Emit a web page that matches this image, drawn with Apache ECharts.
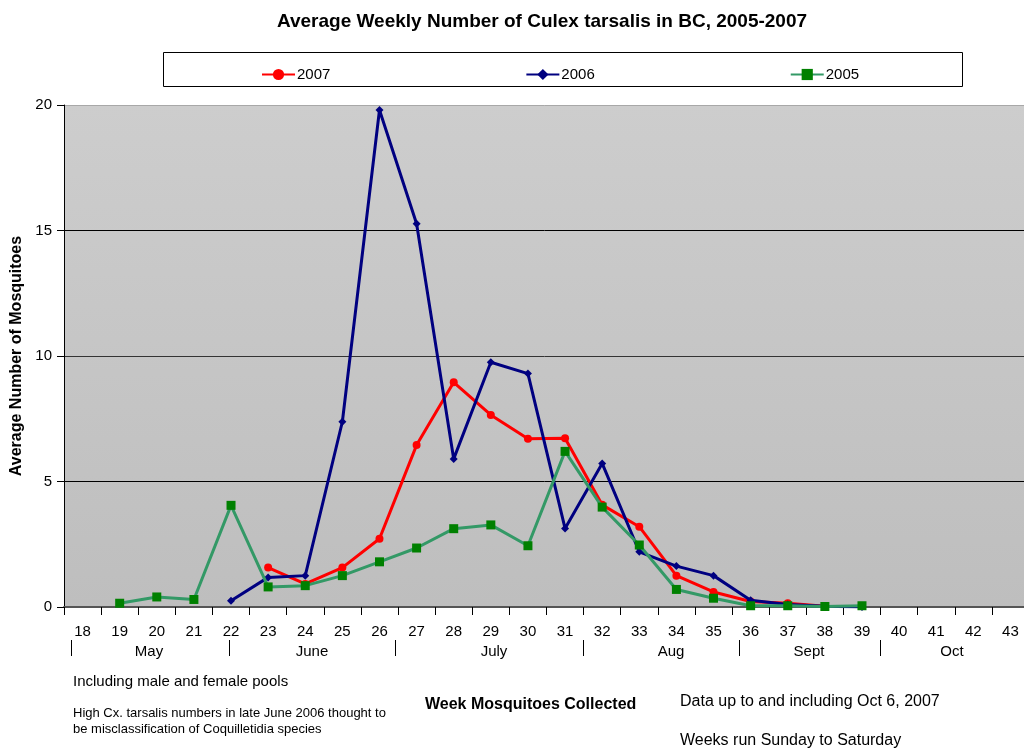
<!DOCTYPE html>
<html>
<head>
<meta charset="utf-8">
<script src="https://cdn.jsdelivr.net/npm/echarts@6/dist/echarts.min.js"></script>
<style>
html,body{margin:0;padding:0;background:#fff;}
#c{width:1024px;height:751px;}
</style>
</head>
<body>
<div id="c"></div>
<script>
var weeks = ['18','19','20','21','22','23','24','25','26','27','28','29','30','31','32','33','34','35','36','37','38','39','40','41','42','43'];
var y2007 = [null,null,null,null,null,1.57,0.92,1.57,2.72,6.45,8.95,7.65,6.70,6.72,4.07,3.20,1.25,0.60,0.22,0.15,0.03,null,null,null,null,null];
var y2006 = [null,null,null,null,0.25,1.18,1.25,7.38,19.8,15.27,5.90,9.75,9.30,3.13,5.72,2.20,1.63,1.25,0.27,0.10,0.03,0.00,null,null,null,null];
var y2005 = [null,0.15,0.40,0.30,4.05,0.80,0.85,1.25,1.80,2.35,3.12,3.27,2.44,6.20,3.98,2.47,0.70,0.35,0.05,0.05,0.02,0.05,null,null,null,null];
var yTicks = [0,5,10,15,20];
var months = ['May','June','July','Aug','Sept','Oct'];
var monthX = [149,312,494,671,809,952];
var sepX = [71,229,395,583,739,880];

var FONT = "'Liberation Sans', Arial, sans-serif";
var chart = echarts.init(document.getElementById('c'), null, {renderer:'canvas'});

var graphics = [
  {type:'rect', shape:{x:163.5,y:52.5,width:799,height:34}, style:{fill:'#fff',stroke:'#000',lineWidth:1}, z:-1}
];
months.forEach(function(m,i){
  graphics.push({type:'text', x:monthX[i], y:652, style:{text:m, font:'15px '+FONT, fill:'#000', textAlign:'center', textVerticalAlign:'middle'}});
});
sepX.forEach(function(x){
  graphics.push({type:'line', shape:{x1:x+0.5,y1:640,x2:x+0.5,y2:656}, style:{stroke:'#000',lineWidth:1}});
});
var notes = [
  {t:'Including male and female pools', x:73, y:682, f:'15px '+FONT},
  {t:'High Cx. tarsalis numbers in late June 2006 thought to', x:73, y:713, f:'13px '+FONT},
  {t:'be misclassification of Coquilletidia species', x:73, y:729, f:'13px '+FONT},
  {t:'Week Mosquitoes Collected', x:425, y:705, f:'bold 16px '+FONT},
  {t:'Data up to and including Oct 6, 2007', x:680, y:702, f:'16px '+FONT},
  {t:'Weeks run Sunday to Saturday', x:680, y:741, f:'16px '+FONT}
];
notes.forEach(function(n){
  graphics.push({type:'text', x:n.x, y:n.y, style:{text:n.t, font:n.f, fill:'#000', textAlign:'left', textVerticalAlign:'middle'}});
});

chart.setOption({
  animation:false,
  backgroundColor:'#fff',
  textStyle:{fontFamily:FONT},
  title:{
    text:'Average Weekly Number of Culex tarsalis in BC, 2005-2007',
    left:537, top:7, textAlign:'center',
    textStyle:{fontSize:19, fontWeight:'bold', color:'#000', fontFamily:FONT}
  },
  legend:{
    left:256, top:62, itemWidth:33, itemHeight:14, itemGap:195,
    textStyle:{fontSize:15, color:'#000', fontFamily:FONT, padding:[0,0,0,-3]},
    data:['2007','2006','2005']
  },
  grid:{
    left:64, top:105, width:965, height:502,
    outerBoundsMode:'none', containLabel:false,
    show:true, borderWidth:0,
    backgroundColor:{type:'linear',x:0,y:0,x2:0,y2:1,colorStops:[{offset:0,color:'#cdcdcd'},{offset:1,color:'#bebebe'}]}
  },
  xAxis:{
    type:'category', data:weeks, boundaryGap:true,
    axisLine:{show:true, lineStyle:{color:'#555', width:2}},
    axisTick:{show:true, length:8, lineStyle:{color:'#000'}},
    axisLabel:{fontSize:15, color:'#000', margin:17, interval:0, fontFamily:FONT},
    splitLine:{show:false}
  },
  yAxis:{
    type:'value', min:0, max:20, interval:5,
    name:'Average Number of Mosquitoes', nameLocation:'middle', nameGap:37,
    nameTextStyle:{fontSize:16, fontWeight:'bold', color:'#000', fontFamily:FONT},
    axisLine:{show:true, lineStyle:{color:'#000', width:1}},
    axisTick:{show:true, length:7, lineStyle:{color:'#000'}},
    axisLabel:{fontSize:15, color:'#000', margin:12, fontFamily:FONT},
    splitLine:{show:true, lineStyle:{color:['#555','#000','#333','#000','#a8a8a8'], width:1}}
  },
  series:[
    {name:'2007', type:'line', data:y2007, symbol:'circle', symbolSize:8,
     lineStyle:{color:'#ff0000', width:3}, itemStyle:{color:'#ff0000'}, z:2},
    {name:'2006', type:'line', data:y2006, symbol:'diamond', symbolSize:8,
     lineStyle:{color:'#000080', width:3}, itemStyle:{color:'#000080'}, z:3},
    {name:'2005', type:'line', data:y2005, symbol:'rect', symbolSize:9,
     lineStyle:{color:'#339966', width:3}, itemStyle:{color:'#008000'}, z:4}
  ],
  graphic:graphics
});
</script>
</body>
</html>
